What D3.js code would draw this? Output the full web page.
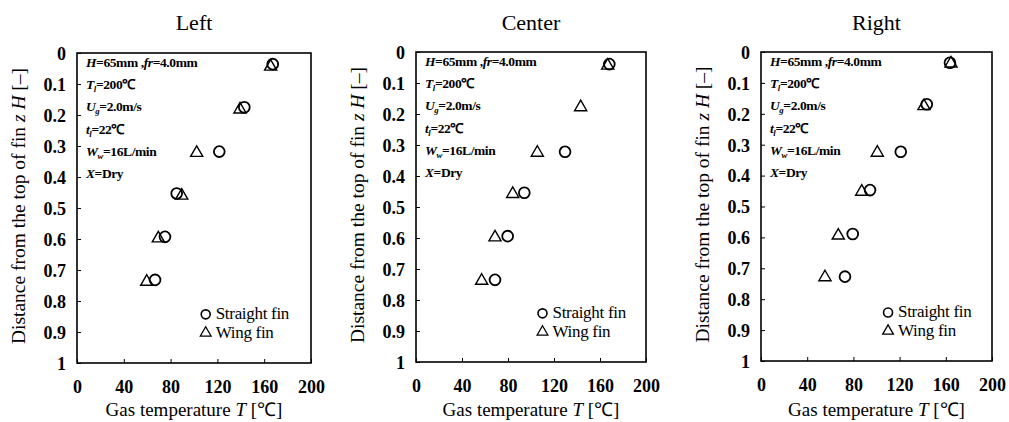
<!DOCTYPE html>
<html><head><meta charset="utf-8">
<script src="https://cdn.jsdelivr.net/npm/d3@7"></script>
<style>
body{margin:0;background:#fff;}
svg text{font-family:'Liberation Serif','Times New Roman',serif;fill:#000;}
</style></head>
<body><svg id="c" width="1009" height="422"></svg>
<script>
// ---- data ----
const panelTitles = ["Left", "Center", "Right"];
const xTicks = [0, 40, 80, 120, 160, 200];
const yTicks = [0, 0.1, 0.2, 0.3, 0.4, 0.5, 0.6, 0.7, 0.8, 0.9, 1];
const seriesNames = ["Straight fin", "Wing fin"];

const leftStraightT = [167.3, 143.0, 121.6, 85.2, 75.2, 66.7];
const leftStraightZ = [0.036, 0.175, 0.318, 0.453, 0.593, 0.732];
const leftWingT = [165.5, 139.3, 102.3, 89.5, 69.5, 59.6];
const leftWingZ = [0.044, 0.182, 0.322, 0.460, 0.598, 0.738];

const centerStraightT = [168.1, 129.6, 94.2, 79.7, 68.7];
const centerStraightZ = [0.039, 0.322, 0.454, 0.594, 0.735];
const centerWingT = [166.7, 143.2, 105.5, 84.1, 68.7, 57.1];
const centerWingZ = [0.044, 0.178, 0.325, 0.458, 0.598, 0.738];

const rightStraightT = [163.6, 143.5, 121.0, 94.4, 79.4, 72.7];
const rightStraightZ = [0.035, 0.169, 0.323, 0.447, 0.589, 0.727];
const rightWingT = [164.5, 141.1, 100.7, 87.2, 66.9, 55.4];
const rightWingZ = [0.037, 0.175, 0.326, 0.452, 0.594, 0.729];

// ---- layout ----
const FONT = "'Liberation Serif', 'Times New Roman', serif";
const svg = d3.select("#c");
const frames = [
  {x0: 77, x1: 311, y0: 53, y1: 363, ylab: 18},
  {x0: 416, x1: 646, y0: 52, y1: 362, ylab: 357},
  {x0: 761, x1: 992, y0: 52, y1: 361, ylab: 702}
];
const panelData = [
  {s: [leftStraightT, leftStraightZ], w: [leftWingT, leftWingZ]},
  {s: [centerStraightT, centerStraightZ], w: [centerWingT, centerWingZ]},
  {s: [rightStraightT, rightStraightZ], w: [rightWingT, rightWingZ]}
];

const annotations = [
  [{t:"H", i:1},{t:"=65mm ,"},{t:"fr", i:1},{t:"=4.0mm"}],
  [{t:"T", i:1},{t:"l", i:1, sub:1},{t:"=200℃"}],
  [{t:"U", i:1},{t:"g", i:1, sub:1},{t:"=2.0m/s"}],
  [{t:"t", i:1},{t:"l", i:1, sub:1},{t:"=22℃"}],
  [{t:"W", i:1},{t:"w", i:1, sub:1},{t:"=16L/min"}],
  [{t:"X", i:1},{t:"=Dry"}]
];

function richText(g, x, y, segs, size, weight) {
  const t = g.append("text").attr("x", x).attr("y", y)
    .style("font-family", FONT)
    .attr("font-size", size).attr("font-weight", weight || "bold")
    .attr("letter-spacing", "-0.4");
  let shifted = false;
  segs.forEach(s => {
    const ts = t.append("tspan").text(s.t);
    if (s.i) ts.attr("font-style", "italic");
    if (s.sub) { ts.attr("dy", 3).attr("font-size", size * 0.65); shifted = true; }
    else if (shifted) { ts.attr("dy", -3); shifted = false; }
  });
  return t;
}

frames.forEach((f, pi) => {
  const x = d3.scaleLinear().domain([0, 200]).range([f.x0, f.x1]);
  const y = d3.scaleLinear().domain([0, 1]).range([f.y0, f.y1]);
  const g = svg.append("g");

  // title
  g.append("text").attr("x", (f.x0 + f.x1) / 2).attr("y", 30)
    .style("font-family", FONT)
    .attr("text-anchor", "middle").attr("font-size", 22).text(panelTitles[pi]);

  // axes
  const ya = g.append("g").attr("transform", `translate(${f.x0},0)`)
    .call(d3.axisLeft(y).tickValues(yTicks).tickSize(-4).tickPadding(11)
      .tickFormat(d => d === 0 ? "0" : d === 1 ? "1" : d3.format(".1f")(d)));
  ya.attr("font-family", null);
  ya.select(".domain").remove();
  ya.selectAll("text").attr("font-size", 18).attr("font-weight", "bold")
    .style("font-family", FONT).attr("dy", "0.35em");
  ya.selectAll("line").attr("stroke", "#000").attr("stroke-width", 1);

  const xa = g.append("g").attr("transform", `translate(0,${f.y1})`)
    .call(d3.axisBottom(x).tickValues(xTicks).tickSize(-4).tickPadding(17)
      .tickFormat(d3.format("d")));
  xa.attr("font-family", null);
  xa.select(".domain").remove();
  xa.selectAll("text").attr("font-size", 18).attr("font-weight", "bold")
    .style("font-family", FONT);
  xa.selectAll("line").attr("stroke", "#000").attr("stroke-width", 1);

  // frame
  g.append("rect").attr("x", f.x0).attr("y", f.y0)
    .attr("width", f.x1 - f.x0).attr("height", f.y1 - f.y0)
    .attr("fill", "none").attr("stroke", "#000").attr("stroke-width", 1.6);

  // axis titles
  const xt = g.append("text").attr("x", (f.x0 + f.x1) / 2).attr("y", 416)
    .style("font-family", FONT)
    .attr("text-anchor", "middle").attr("font-size", 19);
  xt.append("tspan").text("Gas temperature ");
  xt.append("tspan").attr("font-style", "italic").text("T");
  xt.append("tspan").text(" [℃]");

  const yt = g.append("text")
    .style("font-family", FONT)
    .attr("transform", `translate(${f.ylab},${(f.y0 + f.y1) / 2 - 2}) rotate(-90)`)
    .attr("text-anchor", "middle").attr("font-size", 19.5).attr("dy", "0.35em");
  yt.append("tspan").text("Distance from the top of fin   ");
  yt.append("tspan").attr("font-style", "italic").text("z H");
  yt.append("tspan").text(" [–]");

  // annotations
  annotations.forEach((segs, i) => {
    richText(g, f.x0 + 9, f.y0 + 14 + i * 22.2, segs, 13.5, "bold");
  });

  // data
  const pd = panelData[pi];
  const ws = pd.w[0].map((t, i) => [t, pd.w[1][i]]);
  const ss = pd.s[0].map((t, i) => [t, pd.s[1][i]]);
  const tri = d3.symbol().type(d3.symbolTriangle).size(64);
  g.selectAll(".w").data(ws).join("path")
    .attr("d", tri).attr("transform", d => `translate(${x(d[0])},${y(d[1])})`)
    .attr("fill", "none").attr("stroke", "#000").attr("stroke-width", 1.4);
  g.selectAll(".s").data(ss).join("circle")
    .attr("cx", d => x(d[0])).attr("cy", d => y(d[1])).attr("r", 5.4)
    .attr("fill", "none").attr("stroke", "#000").attr("stroke-width", 1.8);

  // legend
  const lx = x(110), ly1 = y(0.843), ly2 = y(0.903);
  g.append("circle").attr("cx", lx).attr("cy", ly1).attr("r", 4.5)
    .attr("fill", "none").attr("stroke", "#000").attr("stroke-width", 1.6);
  g.append("path").attr("d", d3.symbol().type(d3.symbolTriangle).size(50))
    .attr("transform", `translate(${lx},${ly2})`)
    .attr("fill", "none").attr("stroke", "#000").attr("stroke-width", 1.3);
  g.append("text").attr("x", lx + 10).attr("y", ly1 + 5).attr("font-size", 17)
    .style("font-family", FONT)
    .attr("letter-spacing", "-0.3").text(seriesNames[0]);
  g.append("text").attr("x", lx + 10).attr("y", ly2 + 5).attr("font-size", 17)
    .style("font-family", FONT)
    .attr("letter-spacing", "-0.3").text(seriesNames[1]);
});
</script></body></html>
